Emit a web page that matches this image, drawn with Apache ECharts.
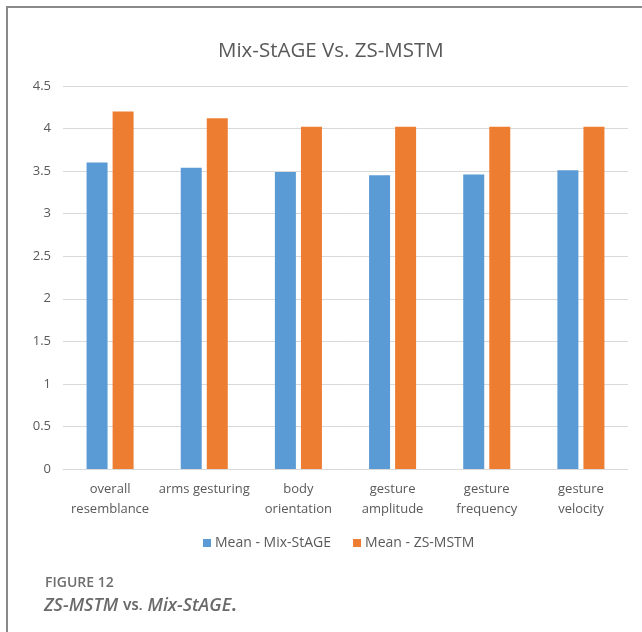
<!DOCTYPE html>
<html>
<head>
<meta charset="utf-8">
<script src="https://cdn.jsdelivr.net/npm/echarts@6/dist/echarts.min.js"></script>
<style>
  html, body { margin: 0; padding: 0; background: #fff; }
  #chart { width: 642px; height: 632px; }
</style>
</head>
<body>
<div id="chart"></div>
<script>
// Rating categories (x axis)
const categories = [
  'overall\nresemblance',
  'arms gesturing',
  'body\norientation',
  'gesture\namplitude',
  'gesture\nfrequency',
  'gesture\nvelocity'
];
// Mean scores per method
const mixStageMeans = [3.60, 3.54, 3.49, 3.45, 3.46, 3.51];
const zsMstmMeans = [4.20, 4.12, 4.02, 4.02, 4.02, 4.02];
const seriesNames = ['Mean - Mix-StAGE', 'Mean - ZS-MSTM'];

const font = '"Open Sans", "Noto Sans", sans-serif';
const chart = echarts.init(document.getElementById('chart'), null, { renderer: 'canvas' });

chart.setOption({
  backgroundColor: '#ffffff',
  animation: false,
  title: [
    {
      text: 'Mix-StAGE Vs. ZS-MSTM',
      left: 213,
      top: 36,
      textStyle: { fontFamily: font, fontSize: 20.5, fontWeight: 'normal', color: '#595959' }
    },
    {
      text: 'FIGURE 12',
      left: 40,
      top: 571,
      textStyle: { fontFamily: font, fontSize: 14, fontWeight: 600, color: '#6d6d6d' }
    },
    {
      text: '{b|ZS-MSTM} {s|VS.} {b|Mix-StAGE}{n|.}',
      left: 39,
      top: 592,
      textStyle: {
        rich: {
          b: { fontFamily: font, fontSize: 18, fontWeight: 600, fontStyle: 'italic', color: '#6a6a6a' },
          s: { fontFamily: font, fontSize: 13, color: '#6a6a6a' },
          n: { fontFamily: font, fontSize: 18, color: '#6a6a6a' }
        }
      }
    }
  ],
  legend: {
    data: seriesNames,
    bottom: 77,
    left: 198,
    itemWidth: 8,
    itemHeight: 8,
    itemGap: 22,
    icon: 'rect',
    textStyle: { fontFamily: font, fontSize: 14, color: '#595959', padding: [0, 0, 0, -1] }
  },
  grid: { left: 63, right: 14, top: 86, bottom: 163 },
  xAxis: {
    type: 'category',
    data: categories,
    axisTick: { show: false },
    axisLine: { lineStyle: { color: '#d9d9d9', width: 1 } },
    axisLabel: {
      fontFamily: font, fontSize: 13, color: '#595959',
      lineHeight: 20, margin: 10, interval: 0
    }
  },
  yAxis: {
    type: 'value',
    min: 0,
    max: 4.5,
    interval: 0.5,
    axisLine: { show: false },
    axisTick: { show: false },
    splitLine: { lineStyle: { color: '#d9d9d9', width: 1 } },
    axisLabel: { fontFamily: font, fontSize: 13, color: '#595959', margin: 12 }
  },
  series: [
    {
      name: seriesNames[0],
      type: 'bar',
      data: mixStageMeans,
      barWidth: 21,
      barGap: '24%',
      itemStyle: { color: '#5b9bd5' }
    },
    {
      name: seriesNames[1],
      type: 'bar',
      data: zsMstmMeans,
      barWidth: 21,
      itemStyle: { color: '#ed7d31' }
    }
  ],
  graphic: [
    {
      type: 'polyline',
      shape: { points: [[7, 632], [7, 7], [642, 7]] },
      style: { stroke: '#8a8a8a', lineWidth: 2, fill: null }
    }
  ]
});
</script>
</body>
</html>
